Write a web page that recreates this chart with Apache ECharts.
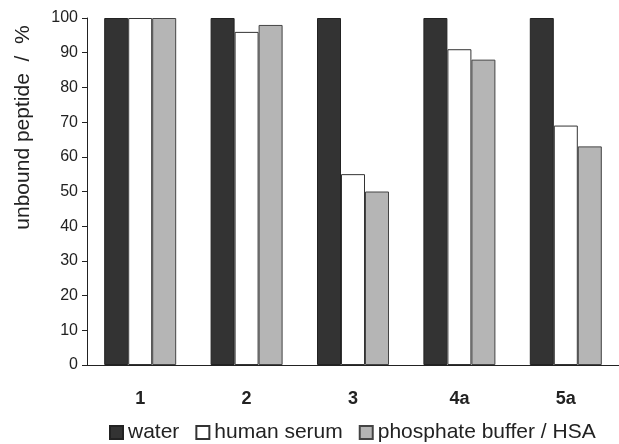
<!DOCTYPE html>
<html>
<head>
<meta charset="utf-8">
<script src="https://cdn.jsdelivr.net/npm/echarts@6/dist/echarts.min.js"></script>
<style>
html,body{margin:0;padding:0;background:#fff;}
#c{width:619px;height:444px;}
</style>
</head>
<body>
<div id="c"></div>
<script>
var categories = ['1', '2', '3', '4a', '5a'];
var water = [100, 100, 100, 100, 100];
var humanSerum = [100, 96, 55, 91, 69];
var phosphateHSA = [100, 98, 50, 88, 63];
var yTicks = [0, 10, 20, 30, 40, 50, 60, 70, 80, 90, 100];

var chart = echarts.init(document.getElementById('c'));
var font = 'Liberation Sans, Arial, sans-serif';
chart.setOption({
  backgroundColor: '#ffffff',
  animation: false,
  grid: { left: 87, top: 18, bottom: 79, right: 0 },
  legend: {
    top: 417,
    left: 104,
    itemWidth: 13,
    itemHeight: 13,
    itemGap: 16,
    icon: 'rect',
    textStyle: { fontFamily: font, fontSize: 21, color: '#222' },
    data: ['water', 'human serum', 'phosphate buffer / HSA']
  },
  xAxis: {
    type: 'category',
    data: categories,
    axisLine: { lineStyle: { color: '#222', width: 1 } },
    axisTick: { length: 4, lineStyle: { color: '#222' } },
    axisLabel: { fontFamily: font, fontSize: 18, fontWeight: 'bold', color: '#222', margin: 25 }
  },
  yAxis: {
    type: 'value',
    min: yTicks[0],
    max: yTicks[yTicks.length - 1],
    interval: 10,
    name: 'unbound peptide  /  %',
    nameLocation: 'middle',
    nameGap: 53,
    nameTextStyle: { fontFamily: font, fontSize: 21, color: '#222', padding: [0, 0, 0, 128] },
    axisLine: { show: true, lineStyle: { color: '#222', width: 1 } },
    axisTick: { show: true, length: 5, lineStyle: { color: '#222' } },
    splitLine: { show: false },
    axisLabel: { fontFamily: font, fontSize: 16, color: '#222', margin: 9 }
  },
  series: [
    { name: 'water', type: 'bar', data: water, barWidth: 24, barGap: '0%',
      itemStyle: { color: '#333333', borderColor: '#222', borderWidth: 1 } },
    { name: 'human serum', type: 'bar', data: humanSerum, barWidth: 24, barGap: '0%',
      itemStyle: { color: '#ffffff', borderColor: '#333', borderWidth: 1 } },
    { name: 'phosphate buffer / HSA', type: 'bar', data: phosphateHSA, barWidth: 24, barGap: '0%',
      itemStyle: { color: '#b5b5b5', borderColor: '#444', borderWidth: 1 } }
  ]
});
</script>
</body>
</html>
